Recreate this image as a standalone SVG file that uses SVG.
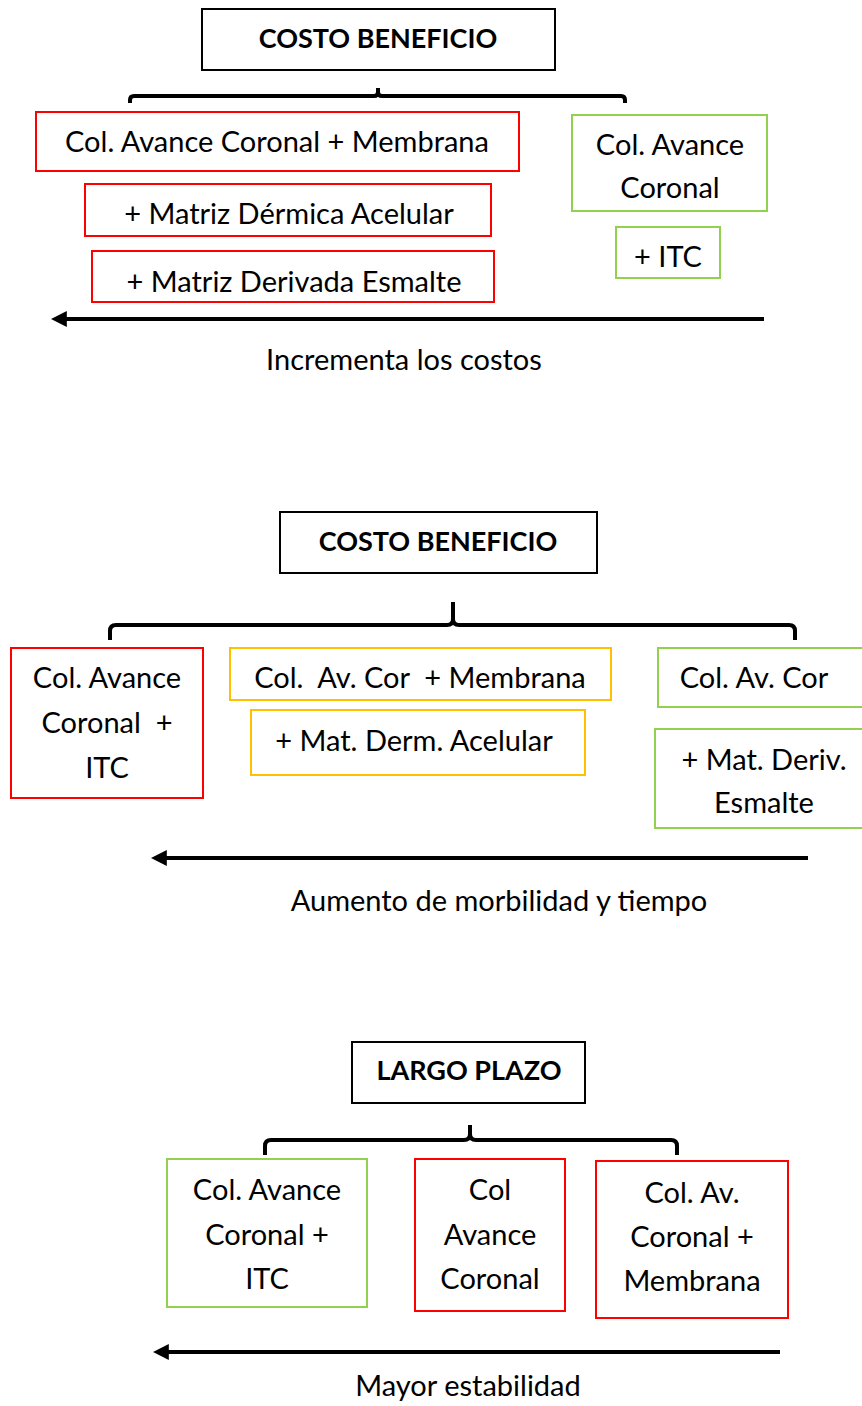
<svg xmlns="http://www.w3.org/2000/svg" width="862" height="1406" viewBox="0 0 862 1406">
<defs>
<style>
.t{font-family:Lato,"Open Sans","Liberation Sans",sans-serif;font-size:29px;fill:#000;text-anchor:middle}
.b{font-weight:bold;font-size:27px}
.title{fill:#fff;stroke:#000;stroke-width:2}
.red{fill:#fff;stroke:#ff0000;stroke-width:2}
.grn{fill:#fff;stroke:#92d050;stroke-width:2}
.org{fill:#fff;stroke:#ffc000;stroke-width:2}
.br{fill:none;stroke:#000;stroke-width:4}
.ar{fill:none;stroke:#000;stroke-width:4}
</style>
<marker id="ah" viewBox="0 0 10 10" refX="3" refY="5" markerWidth="4" markerHeight="4" markerUnits="strokeWidth" orient="auto">
<path d="M0,0 L10,5 L0,10 z" fill="#000"/>
</marker>
</defs>
<rect width="862" height="1406" fill="#fff"/>

<g id="connectors">
<path class="br" d="M130,103 V100 Q130,96 134,96 H374 Q378,96 378,92 V88 M378,88 V92 Q378,96 382,96 H621 Q625,96 625,100 V103"/>
<path class="br" d="M110,640 V631 Q110,625 116,625 H447 Q453,625 453,619 V602 M453,602 V619 Q453,625 459,625 H789 Q795,625 795,631 V640"/>
<path class="br" d="M265,1155 V1146 Q265,1140 271,1140 H464 Q470,1140 470,1134 V1125 M470,1125 V1134 Q470,1140 476,1140 H671 Q677,1140 677,1146 V1155"/>
<line class="ar" x1="764" y1="319" x2="62" y2="319" marker-end="url(#ah)"/>
<line class="ar" x1="808" y1="858" x2="162" y2="858" marker-end="url(#ah)"/>
<line class="ar" x1="780" y1="1352" x2="164" y2="1352" marker-end="url(#ah)"/>
</g>

<g id="s1-title"><rect class="title" x="202" y="9" width="353" height="61"/><text class="t b" x="378" y="48">COSTO BENEFICIO</text></g>
<g id="s1-n1"><rect class="red" x="36" y="112" width="483" height="59"/><text class="t" x="277" y="152">Col. Avance Coronal + Membrana</text></g>
<g id="s1-n2"><rect class="red" x="85" y="184" width="406" height="52"/><text class="t" x="289" y="224">+ Matriz Dérmica Acelular</text></g>
<g id="s1-n3"><rect class="red" x="92" y="251" width="402" height="51"/><text class="t" x="294" y="292">+ Matriz Derivada Esmalte</text></g>
<g id="s1-n4"><rect class="grn" x="572" y="115" width="195" height="96"/><text class="t" x="670" y="155">Col. Avance</text><text class="t" x="670" y="198">Coronal</text></g>
<g id="s1-n5"><rect class="grn" x="616" y="227" width="104" height="51"/><text class="t" x="668" y="267">+ ITC</text></g>
<g id="s1-label"><text class="t" x="404" y="370">Incrementa los costos</text></g>

<g id="s2-title"><rect class="title" x="280" y="512" width="317" height="61"/><text class="t b" x="438" y="551">COSTO BENEFICIO</text></g>
<g id="s2-n1"><rect class="red" x="11" y="648" width="192" height="150"/><text class="t" x="107" y="688">Col. Avance</text><text class="t" x="107" y="733" xml:space="preserve">Coronal  +</text><text class="t" x="107" y="778">ITC</text></g>
<g id="s2-n2"><rect class="org" x="230" y="648" width="381" height="52"/><text class="t" x="420" y="688" xml:space="preserve">Col.  Av. Cor  + Membrana</text></g>
<g id="s2-n3"><rect class="org" x="251" y="710" width="334" height="65"/><text class="t" x="414" y="751">+ Mat. Derm. Acelular</text></g>
<g id="s2-n4"><rect class="grn" x="658" y="648" width="210" height="59"/><text class="t" x="754" y="688">Col. Av. Cor</text></g>
<g id="s2-n5"><rect class="grn" x="655" y="729" width="213" height="99"/><text class="t" x="764" y="770">+ Mat. Deriv.</text><text class="t" x="764" y="813">Esmalte</text></g>
<g id="s2-label"><text class="t" x="499" y="911">Aumento de morbilidad y tiempo</text></g>

<g id="s3-title"><rect class="title" x="352" y="1042" width="233" height="61"/><text class="t b" x="469" y="1080">LARGO PLAZO</text></g>
<g id="s3-n1"><rect class="grn" x="167" y="1159" width="200" height="148"/><text class="t" x="267" y="1200">Col. Avance</text><text class="t" x="267" y="1245">Coronal +</text><text class="t" x="267" y="1289">ITC</text></g>
<g id="s3-n2"><rect class="red" x="415" y="1159" width="150" height="152"/><text class="t" x="490" y="1200">Col</text><text class="t" x="490" y="1245">Avance</text><text class="t" x="490" y="1289">Coronal</text></g>
<g id="s3-n3"><rect class="red" x="596" y="1161" width="192" height="157"/><text class="t" x="692" y="1203">Col. Av.</text><text class="t" x="692" y="1247">Coronal +</text><text class="t" x="692" y="1291">Membrana</text></g>
<g id="s3-label"><text class="t" x="468" y="1396">Mayor estabilidad</text></g>
</svg>
